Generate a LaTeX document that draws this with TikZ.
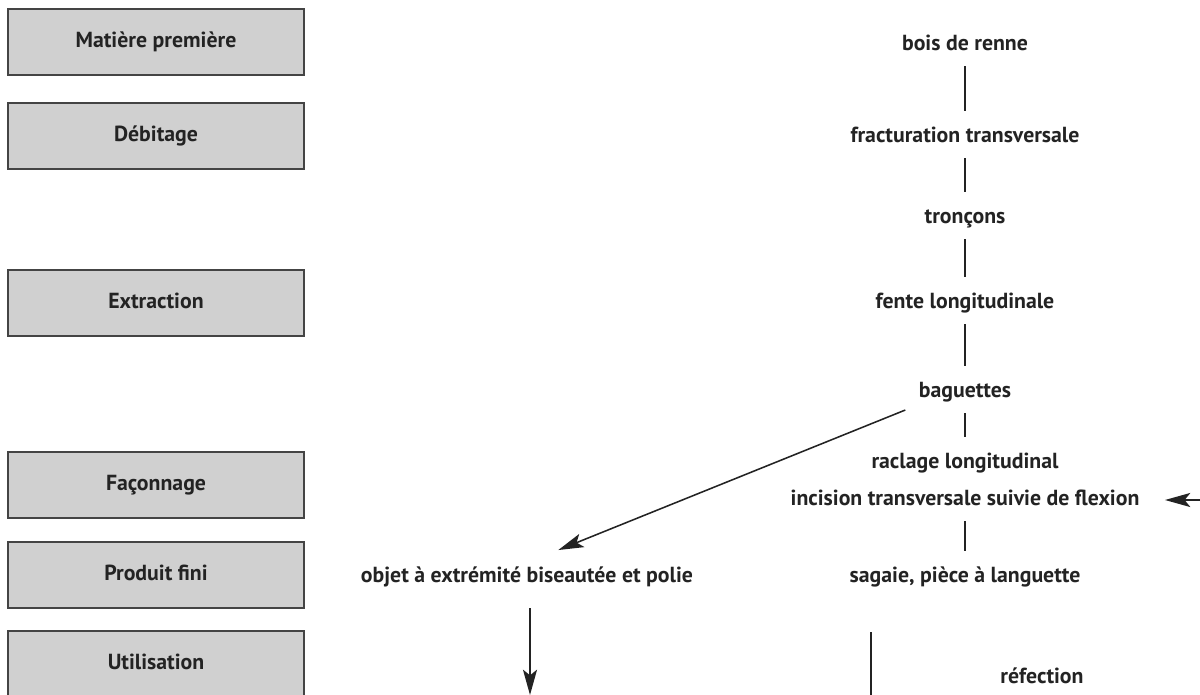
\documentclass[tikz,border=0pt]{standalone}
\usepackage{fontspec}
\setmainfont{PT Sans}
\usetikzlibrary{positioning,arrows.meta}

\definecolor{boxgray}{RGB}{208,208,208}
\definecolor{inkgray}{RGB}{35,35,35}

\begin{document}
\begin{tikzpicture}[x=0.025cm,y=-0.025cm,font=\bfseries\fontsize{15.5}{18}\selectfont,text=inkgray,
  every node/.style={inner sep=3pt,text height=11pt,text depth=3pt},
  >={Stealth[length=18pt,width=10pt,inset=4pt]},
  etape/.style={draw=inkgray!85,line width=1.2pt,fill=boxgray,minimum width=7.4cm,minimum height=1.65cm},
  lien/.style={draw=inkgray,line width=1pt,shorten <=5pt,shorten >=8.5pt},
  fleche/.style={draw=inkgray,line width=1.1pt,->}]
  %\draw[help lines,step=50] (0,0) grid (1200,695);
  \useasboundingbox (0,0) rectangle (1200,695);
  \clip (0,0) rectangle (1200,695);

  \foreach \y/\n/\t in {42/MP/Matière première, 136/Deb/Débitage, 303/Ext/Extraction,
    485/Fac/Façonnage, 575/PF/Produit fini, 664/Util/Utilisation}
  \node[etape] (\n) at (156,\y) {\t};

  \foreach \y/\n/\t in {45/bois/bois de renne, 137/fract/fracturation transversale, 218/troncons/tronçons,
    303/fente/fente longitudinale, 392/baguettes/baguettes, 463/raclage/raclage longitudinal,
    500/incision/incision transversale suivie de flexion, 577/sagaie/{sagaie, pièce à languette}}
  \node (\n) at (965,\y) {\t};

  \node (objet) at (527,577) {objet à extrémité biseautée et polie};
  \node (refection) at (1042,678) {réfection};

  \coordinate (objetBas) at (530,695);
  \coordinate (retourHaut) at (871,632);
  \coordinate (retourBas) at (871,696);
  \coordinate (retourDroite) at (1200,696);
  \coordinate (entreeDroite) at (1200,500);

  \foreach \s/\t in {bois/fract, fract/troncons, troncons/fente, fente/baguettes,
    baguettes/raclage, incision/sagaie}
    \draw [lien] (\s) to (\t);
  \draw [fleche,shorten <=7pt,shorten >=24pt] (baguettes.south west) to (objet.north);
  \draw [fleche,shorten <=12pt] (objet.south -| objetBas) to (objetBas);
  \draw [fleche,shorten >=15pt] (entreeDroite) to (incision.east);
  \draw [draw=inkgray,line width=1.2pt] (retourHaut) -- (retourBas) -- (retourDroite);

\end{tikzpicture}
\end{document}
